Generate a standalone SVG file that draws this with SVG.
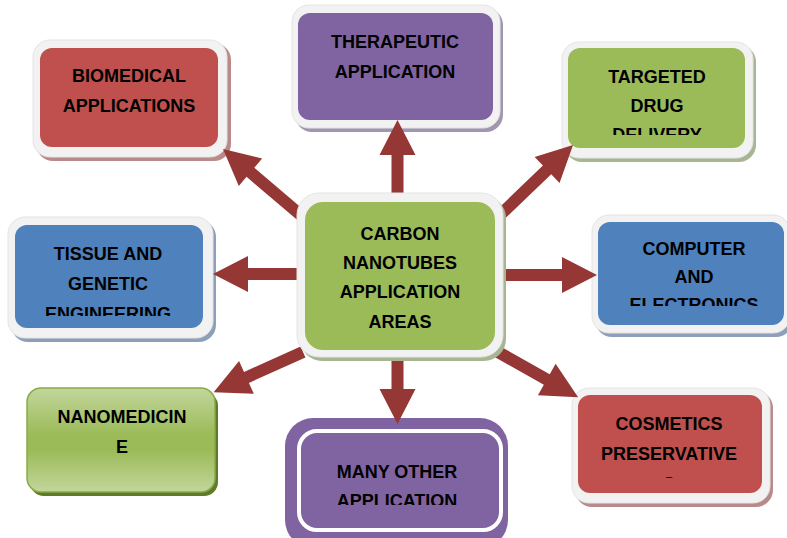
<svg xmlns="http://www.w3.org/2000/svg" width="787" height="538" viewBox="0 0 787 538">
<style>
.frame{fill:#f2f2f2;stroke:#e4e4e4;stroke-width:1}
.t{font-family:"Liberation Sans",Arial,sans-serif;font-weight:bold;font-size:18px;text-anchor:middle;fill:#000}
.red{fill:#c0504d}.pur{fill:#8064a2}.grn{fill:#9bbb59}.blu{fill:#4f81bd}
.arr{fill:#953735}
</style>
<defs>
<linearGradient id="ng" x1="0" y1="0" x2="0" y2="1">
<stop offset="0" stop-color="#c3d69b"/><stop offset="0.45" stop-color="#9bbb59"/><stop offset="0.6" stop-color="#9bbb59"/><stop offset="1" stop-color="#c3d69b"/>
</linearGradient>
<clipPath id="cTarg"><rect x="560" y="40" width="200" height="95"/></clipPath>
<clipPath id="cTiss"><rect x="0" y="215" width="220" height="101"/></clipPath>
<clipPath id="cComp"><rect x="590" y="210" width="197" height="96"/></clipPath>
<clipPath id="cMany"><rect x="280" y="415" width="230" height="90"/></clipPath>
<clipPath id="cCosm"><rect x="570" y="385" width="200" height="93"/></clipPath>
</defs>
<rect width="787" height="538" fill="#fff"/>

<g id="biomedical">
<rect x="36" y="43" width="195" height="118" rx="17" fill="#b98a89"/>
<rect class="frame" x="33" y="40" width="194" height="117" rx="17"/>
<rect class="red" x="40" y="48" width="178" height="99" rx="12"/>
<text class="t" x="129" y="82">BIOMEDICAL</text>
<text class="t" x="129" y="112">APPLICATIONS</text>
</g>

<g id="therapeutic">
<rect x="295" y="8" width="208" height="124" rx="17" fill="#a196b0"/>
<rect class="frame" x="292" y="5" width="208" height="123" rx="17"/>
<rect class="pur" x="298" y="13" width="195" height="107" rx="12"/>
<text class="t" x="395" y="48">THERAPEUTIC</text>
<text class="t" x="395" y="78">APPLICATION</text>
</g>

<g id="targeted">
<rect x="565" y="45" width="191" height="117" rx="17" fill="#a7b592"/>
<rect class="frame" x="562" y="42" width="191" height="116" rx="17"/>
<rect class="grn" x="568" y="48" width="177" height="100" rx="12"/>
<g clip-path="url(#cTarg)">
<text class="t" x="657" y="83">TARGETED</text>
<text class="t" x="657" y="112">DRUG</text>
<text class="t" x="657" y="141">DELIVERY</text>
</g>
</g>

<g id="tissue">
<rect x="11" y="220" width="205" height="122" rx="17" fill="#8e9fba"/>
<rect class="frame" x="8" y="217" width="205" height="121" rx="17"/>
<rect class="blu" x="15" y="225" width="188" height="103" rx="12"/>
<g clip-path="url(#cTiss)">
<text class="t" x="108" y="260">TISSUE AND</text>
<text class="t" x="108" y="290">GENETIC</text>
<text class="t" x="108" y="320">ENGINEERING</text>
</g>
</g>

<g id="computer">
<rect x="595" y="218" width="198" height="119" rx="17" fill="#8e9fba"/>
<rect class="frame" x="592" y="215" width="198" height="118" rx="17"/>
<rect class="blu" x="598" y="222" width="186" height="103" rx="12"/>
<g clip-path="url(#cComp)">
<text class="t" x="694" y="255">COMPUTER</text>
<text class="t" x="694" y="283">AND</text>
<text class="t" x="694" y="311">ELECTRONICS</text>
</g>
</g>

<g id="nanomedicine">
<rect x="30" y="392" width="188" height="104" rx="14" fill="#5f7a2a"/>
<rect x="27" y="388" width="188" height="104" rx="14" fill="url(#ng)" stroke="#8aab47" stroke-width="1.5"/>
<text class="t" x="122" y="423">NANOMEDICIN</text>
<text class="t" x="122" y="453">E</text>
</g>

<g id="many-other">
<rect class="pur" x="285" y="418" width="223" height="130" rx="28"/>
<rect class="pur" x="299" y="431" width="202" height="99" rx="18" stroke="#fff" stroke-width="4"/>
<g clip-path="url(#cMany)">
<text class="t" x="397" y="478">MANY OTHER</text>
<text class="t" x="397" y="507">APPLICATION</text>
</g>
</g>

<g id="cosmetics">
<rect x="575" y="391" width="198" height="116" rx="17" fill="#b98a89"/>
<rect class="frame" x="572" y="388" width="198" height="115" rx="17"/>
<rect class="red" x="578" y="395" width="184" height="98" rx="12"/>
<g clip-path="url(#cCosm)">
<text class="t" x="669" y="430">COSMETICS</text>
<text class="t" x="669" y="460">PRESERVATIVE</text>
<text class="t" x="669" y="490">S</text>
</g>
</g>

<g id="connectors">
<polygon class="arr" transform="translate(397.5,198) rotate(-90)" points="0,-6 43,-6 43,-18 78,0 43,18 43,6 0,6"/>
<polygon class="arr" transform="translate(303,217) rotate(220.4)" points="0,-6 69,-6 69,-18 105,0 69,18 69,6 0,6"/>
<polygon class="arr" transform="translate(498,217) rotate(-43.8)" points="0,-6 68,-6 68,-18 104,0 68,18 68,6 0,6"/>
<polygon class="arr" transform="translate(303,274) rotate(180)" points="0,-6 55,-6 55,-18 90,0 55,18 55,6 0,6"/>
<polygon class="arr" transform="translate(497,275)" points="0,-6 65,-6 65,-18 100,0 65,18 65,6 0,6"/>
<polygon class="arr" transform="translate(303,352) rotate(155.8)" points="0,-6 62,-6 62,-18 98,0 62,18 62,6 0,6"/>
<polygon class="arr" transform="translate(397.5,357) rotate(90)" points="0,-6 32,-6 32,-18 67,0 32,18 32,6 0,6"/>
<polygon class="arr" transform="translate(498,352) rotate(29.4)" points="0,-6 56,-6 56,-18 92,0 56,18 56,6 0,6"/>
</g>

<g id="center">
<rect x="300" y="196" width="206" height="165" rx="22" fill="#a7b592"/>
<rect class="frame" x="297" y="193" width="206" height="164" rx="22"/>
<rect class="grn" x="305" y="202" width="190" height="148" rx="18"/>
<text class="t" x="400" y="240">CARBON</text>
<text class="t" x="400" y="269">NANOTUBES</text>
<text class="t" x="400" y="298">APPLICATION</text>
<text class="t" x="400" y="328">AREAS</text>
</g>
</svg>
